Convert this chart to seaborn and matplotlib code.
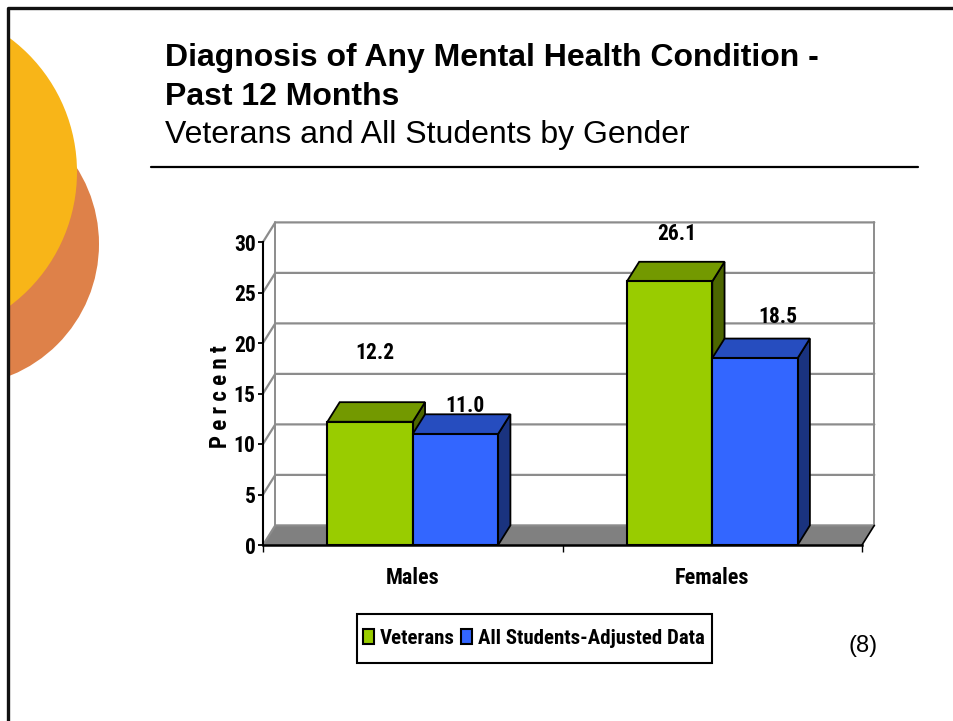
import matplotlib
matplotlib.use("Agg")
import matplotlib.pyplot as plt
import pandas as pd
import seaborn as sns
from matplotlib.patches import Circle, Polygon, Rectangle
from matplotlib.lines import Line2D

groups = ["Males", "Females"]
series = ["Veterans", "All Students-Adjusted Data"]
veterans = [12.2, 26.1]
all_students = [11.0, 18.5]
y_ticks = [0, 5, 10, 15, 20, 25, 30]

df = pd.DataFrame({
    "group": groups * 2,
    "series": [series[0]] * 2 + [series[1]] * 2,
    "percent": veterans + all_students,
})

front_colors = {series[0]: "#99CC00", series[1]: "#3366FF"}
top_colors = ["#739900", "#264DBF"]
side_colors = ["#4C6600", "#1A337F"]
wall_color = "#8C8C8C"
narrow = ["Roboto Condensed", "Asap Condensed", "Liberation Sans"]

sns.set_theme(style="white")
plt.rcParams["font.family"] = ["Liberation Sans", "DejaVu Sans"]

W, H = 954, 721
fig = plt.figure(figsize=(W / 100, H / 100), dpi=100, facecolor="white")

# slide background, in pixel coordinates
bg = fig.add_axes([0, 0, 1, 1], zorder=0)
bg.set_xlim(0, W)
bg.set_ylim(H, 0)
bg.axis("off")
bg.add_patch(Circle((-43, 244), 142, color="#DE8149", lw=0))
bg.add_patch(Circle((-90, 172), 167, color="#F8B518", lw=0))
bg.add_patch(Polygon([[0, 0], [8, 0], [8, H], [0, H]], color="white", lw=0))
bg.add_line(Line2D([8, 8, W], [H, 8, 8], color="#111111", lw=2.4))
bg.add_line(Line2D([151, 918], [167, 167], color="black", lw=1.6))
bg.text(165, 58, "Diagnosis of Any Mental Health Condition -", fontsize=23, fontweight="bold", va="center", color="black")
bg.text(165, 97, "Past 12 Months", fontsize=23, fontweight="bold", va="center", color="black")
bg.text(165, 135, "Veterans and All Students by Gender", fontsize=23, va="center", color="black")
bg.text(863, 646, "(8)", fontsize=17, ha="center", va="center", color="black")
bg.add_patch(Rectangle((357, 613.5), 355, 49, facecolor="white", edgecolor="black", lw=1.5))

# chart axes: front plane of the 3D box
ax = fig.add_axes([263 / W, 1 - 545 / H, 599 / W, 303 / H], zorder=1)
ax.patch.set_alpha(0)
sns.barplot(data=df, x="group", y="percent", hue="series", order=groups, hue_order=series,
            palette=front_colors, width=0.57, gap=0, dodge=True, saturation=1,
            edgecolor="black", linewidth=1.5, errorbar=None, ax=ax, zorder=6)
ax.set_xlim(-0.5, 1.5)
ax.set_ylim(0, 30)

dx = 12.3 / 299.5
dy = 19.6 / 10.1

# walls and floor
x0, x1 = -0.5, 1.5
ax.add_patch(Polygon([[x0, 0], [x1, 0], [x1 + dx, dy], [x0 + dx, dy]], facecolor="#808080",
                     edgecolor="none", clip_on=False, zorder=1))
for v in y_ticks:
    ax.plot([x0, x0 + dx, x1 + dx], [v, v + dy, v + dy], color=wall_color, lw=1.6, clip_on=False, zorder=1)
ax.plot([x0 + dx, x0 + dx], [dy, 30 + dy], color=wall_color, lw=1.4, clip_on=False, zorder=1)
ax.plot([x1 + dx, x1 + dx], [dy, 30 + dy], color=wall_color, lw=1.4, clip_on=False, zorder=1)
ax.plot([x1, x1 + dx], [0, dy], color="black", lw=1.2, clip_on=False, zorder=2)

# top and side faces for each bar
for i, container in enumerate(ax.containers):
    for bar in container:
        left, w, h = bar.get_x(), bar.get_width(), bar.get_height()
        right = left + w
        ax.add_patch(Polygon([[right, 0], [right + dx, dy], [right + dx, h + dy], [right, h]],
                             facecolor=side_colors[i], edgecolor="black", lw=1.3, clip_on=False, zorder=3 + i))
        ax.add_patch(Polygon([[left, h], [left + dx, h + dy], [right + dx, h + dy], [right, h]],
                             facecolor=top_colors[i], edgecolor="black", lw=1.3, clip_on=False, zorder=3 + i))

# value labels sit by hand in the original, offsets in pixels from bar top centre
label_offsets = [[(4.5, 69), (7.5, 47)], [(10, 28), (23, 41)]]
for i, container in enumerate(ax.containers):
    for j, bar in enumerate(container):
        ax.annotate(f"{bar.get_height():.1f}", (bar.get_x() + bar.get_width() / 2, bar.get_height()),
                    xytext=label_offsets[i][j], textcoords="offset pixels", ha="center", va="center",
                    fontsize=15.5, fontweight="bold", family=narrow, color="black",
                    annotation_clip=False, zorder=2)

# axes lines and ticks
sns.despine(ax=ax, top=True, right=True)
ax.spines["left"].set(color="black", linewidth=1.5)
ax.spines["bottom"].set(color="black", linewidth=1.8, zorder=7)
ax.set_yticks(y_ticks)
ax.tick_params(axis="y", direction="out", length=3.8, width=1.3, color="black", left=True, pad=1.5)
ax.set_xticks([0, 1], groups)
ax.set_xticks([-0.5, 0.5, 1.5], minor=True)
ax.tick_params(axis="x", which="minor", direction="out", length=5, width=1, color="black", bottom=True)
ax.tick_params(axis="x", which="major", length=0, pad=16)
for t in ax.get_yticklabels():
    t.set(fontsize=15.5, fontweight="bold", family=narrow, color="black")
for t in ax.get_xticklabels():
    t.set(fontsize=16, fontweight="bold", family=narrow, color="black")
ax.set_xlabel("")
ax.set_ylabel("")
bg.text(221, 397, "P e r c e n t", rotation=90, fontsize=16.5, fontweight="bold", family=narrow, ha="center", va="center", color="black")

# legend, frame is the rectangle on the background
handles, labels = ax.get_legend_handles_labels()
leg = ax.legend(handles, labels, ncol=2, loc="center", bbox_to_anchor=(534 / W, 1 - 638.5 / H),
                bbox_transform=fig.transFigure, frameon=False,
                handlelength=0.5, handleheight=0.75, handletextpad=0.28,
                columnspacing=0.33, borderpad=0.1, borderaxespad=0, labelcolor="black",
                prop={"family": narrow, "weight": "bold", "size": 15})
leg.set_zorder(10)

fig.savefig("out.png", dpi=100)
